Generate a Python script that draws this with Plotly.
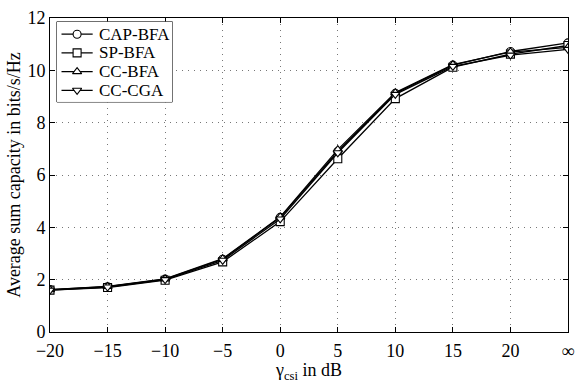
import plotly.graph_objects as go

x_labels = ["\u221220", "\u221215", "\u221210", "\u22125", "0", "5", "10", "15", "20", "\u221e"]

cap_bfa = [1.62, 1.73, 2.02, 2.78, 4.38, 6.90, 9.12, 10.20, 10.72, 11.05]
sp_bfa = [1.60, 1.70, 1.98, 2.68, 4.22, 6.62, 8.92, 10.12, 10.62, 10.95]
cc_bfa = [1.62, 1.74, 2.03, 2.80, 4.40, 6.97, 9.15, 10.22, 10.70, 10.88]
cc_cga = [1.60, 1.72, 2.00, 2.74, 4.32, 6.85, 9.08, 10.15, 10.58, 10.80]

series_names = ["CAP-BFA", "SP-BFA", "CC-BFA", "CC-CGA"]
series_values = [cap_bfa, sp_bfa, cc_bfa, cc_cga]
series_symbols = ["circle", "square", "triangle-up", "triangle-down"]

FAM = "Liberation Serif"
font = dict(family=FAM, size=18, color="black")

fig = go.Figure()
for name, vals, sym in zip(series_names, series_values, series_symbols):
    fig.add_trace(go.Scatter(
        x=list(range(len(x_labels))), y=vals, name=name, mode="lines+markers",
        line=dict(color="black", width=1.3),
        marker=dict(symbol=sym, size=8, color="white", line=dict(width=1.1, color="black")),
        showlegend=False,
    ))

# ---- hand-drawn compact legend box ----
BOX_H = 84.0
L_LEFT, L_RIGHT, L_TOP = 0.0133, 0.2362, 0.988
L_BOTTOM = L_TOP - BOX_H / 329.0
fig.add_shape(type="rect", xref="paper", yref="paper",
              x0=L_LEFT, x1=L_RIGHT, y0=L_BOTTOM, y1=L_TOP,
              line=dict(color="black", width=1), fillcolor="white", layer="between")
for i, (name, sym) in enumerate(zip(series_names, series_symbols)):
    yc = 1 - (13 + 19.6 * i) / BOX_H
    fig.add_trace(go.Scatter(
        x=[0.04, 0.175, 0.31], y=[yc, yc, yc], mode="lines",
        line=dict(color="black", width=1.3), xaxis="x2", yaxis="y2",
        showlegend=False, hoverinfo="skip",
    ))
    fig.add_trace(go.Scatter(
        x=[0.175], y=[yc], mode="markers",
        marker=dict(symbol=sym, size=8, color="white", line=dict(width=1.1, color="black")),
        xaxis="x2", yaxis="y2", showlegend=False, hoverinfo="skip",
    ))
    fig.add_annotation(x=0.35, y=yc, xref="x2", yref="y2", text=name, showarrow=False,
                       xanchor="left", yanchor="middle",
                       font=dict(family=FAM, size=17, color="black"))

fig.update_layout(
    width=583, height=383,
    margin=dict(l=50, r=8, t=10, b=44),
    paper_bgcolor="white", plot_bgcolor="white",
    font=font,
    showlegend=False,
    xaxis=dict(
        range=[0, 9], tickmode="array", tickvals=list(range(len(x_labels))), ticktext=x_labels,
        showline=True, linecolor="black", linewidth=1, mirror="ticks",
        ticks="inside", ticklen=5, tickcolor="black",
        showgrid=True, gridcolor="#777777", griddash="1px,5px", gridwidth=1,
        zeroline=False, tickfont=font, ticklabelstandoff=2,
        title=dict(text="\u03b3<sub>csi</sub> in dB", standoff=2, font=font),
    ),
    yaxis=dict(
        range=[0, 12], tickvals=[0, 2, 4, 6, 8, 10, 12],
        showline=True, linecolor="black", linewidth=1, mirror="ticks",
        ticks="inside", ticklen=5, tickcolor="black",
        showgrid=True, gridcolor="#777777", griddash="1px,5px", gridwidth=1,
        zeroline=False, tickfont=font,
        title=dict(text="Average sum capacity in bits/s/Hz", standoff=2, font=font),
    ),
    xaxis2=dict(domain=[L_LEFT, L_RIGHT], range=[0, 1], visible=False, anchor="y2"),
    yaxis2=dict(domain=[L_BOTTOM, L_TOP], range=[0, 1], visible=False, anchor="x2"),
)

fig.write_html("out.html")
